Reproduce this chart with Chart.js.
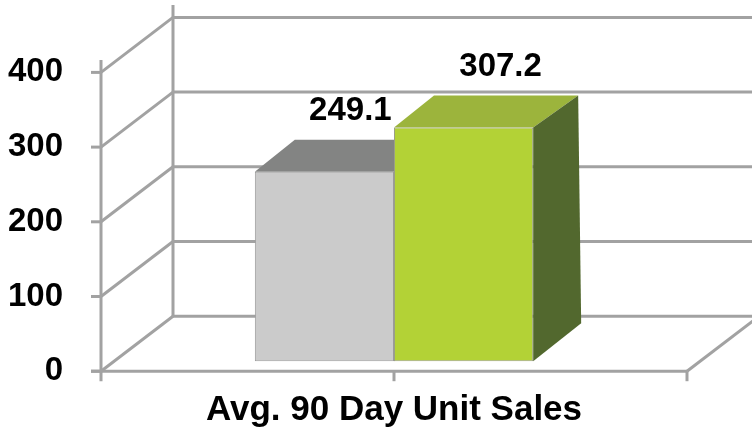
<!DOCTYPE html>
<html>
<head>
<meta charset="utf-8">
<script src="https://cdn.jsdelivr.net/npm/chart.js@4/dist/chart.umd.min.js"></script>
<style>
  html, body { margin: 0; padding: 0; background: #ffffff; }
  #wrap { width: 752px; height: 429px; }
</style>
</head>
<body>
<div id="wrap"><canvas id="c" width="752" height="429"></canvas></div>
<script>
// ---- data ----
const categories = ['Avg. 90 Day Unit Sales'];
const seriesNames = ['Series 1', 'Series 2'];
const grayValues = [249.1];
const greenValues = [307.2];
const yTickValues = [0, 100, 200, 300, 400];

// ---- styles ----
const FONT = "'Liberation Sans', Arial, Helvetica, sans-serif";
const LINE = '#a2a2a2';
const WALL_DX = 72, WALL_DY = -55;          // back wall offset
const FACE = [
  { front: '#cbcbcb', top: '#838483', side: '#6b6b6b' },
  { front: '#b3d236', top: '#9cb43c', side: '#52682e' }
];
const LABEL_DX = [26, 37], LABEL_DY = -52;

const frame3d = {
  id: 'frame3d',
  beforeDatasetsDraw(chart) {
    const { ctx, chartArea: a, scales } = chart;
    const y = scales.y, x = scales.x;
    ctx.save();
    ctx.strokeStyle = LINE;
    ctx.lineWidth = 3;
    const line = (x1, y1, x2, y2) => { ctx.beginPath(); ctx.moveTo(x1, y1); ctx.lineTo(x2, y2); ctx.stroke(); };
    y.ticks.forEach(t => {
      const py = y.getPixelForValue(t.value);
      line(a.left, py, a.left + WALL_DX, py + WALL_DY);
      line(a.left + WALL_DX, py + WALL_DY, chart.width, py + WALL_DY);
      line(a.left - 10, py, a.left, py);
    });
    line(a.left + WALL_DX, a.top + WALL_DY, a.left + WALL_DX, a.bottom + WALL_DY);
    line(a.right, a.bottom, a.right + WALL_DX, a.bottom + WALL_DY);
    line(a.left, a.top, a.left, a.bottom + 10);
    line(a.left - 10, a.bottom, a.right, a.bottom);
    [x.getPixelForValue(0), a.right].forEach(px => line(px, a.bottom, px, a.bottom + 10));
    ctx.restore();

    // 3D top and side faces, drawn back-to-front (first series first)
    chart.data.datasets.forEach((ds, i) => {
      const f = FACE[i];
      chart.getDatasetMeta(i).data.forEach(bar => {
        const x0 = bar.x - bar.width / 2, x1 = bar.x + bar.width / 2;
        const yt = bar.y, yb = bar.base;
        ctx.save();
        ctx.fillStyle = f.top;
        ctx.beginPath();
        ctx.moveTo(x0, yt); ctx.lineTo(x0 + 40, yt - 32); ctx.lineTo(x1 + 45, yt - 32); ctx.lineTo(x1, yt);
        ctx.closePath(); ctx.fill();
        ctx.fillStyle = f.side;
        ctx.beginPath();
        ctx.moveTo(x1, yt); ctx.lineTo(x1 + 45, yt - 32); ctx.lineTo(x1 + 48, yb - 38); ctx.lineTo(x1, yb);
        ctx.closePath(); ctx.fill();
        ctx.restore();
      });
    });
  },
  afterDatasetsDraw(chart) {
    const ctx = chart.ctx;
    ctx.save();
    ctx.font = 'bold 33px ' + FONT;
    ctx.fillStyle = '#000';
    ctx.textAlign = 'center';
    ctx.textBaseline = 'alphabetic';
    chart.data.datasets.forEach((ds, i) => {
      chart.getDatasetMeta(i).data.forEach((bar, j) => {
        ctx.fillText(String(ds.data[j]), bar.x + LABEL_DX[i], bar.y + LABEL_DY);
      });
    });
    ctx.restore();
  }
};

new Chart(document.getElementById('c'), {
  type: 'bar',
  data: {
    labels: categories,
    datasets: [
      { label: seriesNames[0], data: grayValues, backgroundColor: FACE[0].front, borderColor: '#9a9a9a', borderWidth: 1, borderSkipped: false, yAxisID: 'yb' },
      { label: seriesNames[1], data: greenValues, backgroundColor: FACE[1].front, borderColor: '#9a9f86', borderWidth: 1, borderSkipped: false, yAxisID: 'yb' }
    ]
  },
  options: {
    responsive: false,
    animation: false,
    devicePixelRatio: 1,
    layout: { padding: { top: 60, right: 65, bottom: 0, left: 0 } },
    categoryPercentage: 0.475,
    barPercentage: 1,
    plugins: { legend: { display: false }, tooltip: { enabled: false } },
    scales: {
      x: {
        grid: { display: false, drawTicks: false },
        border: { display: false },
        ticks: { color: '#000', font: { family: FONT, size: 35, weight: 'bold' }, padding: 18 },
        afterFit: s => { s.height = 56; }
      },
      y: {
        min: 0, max: 416.6,
        grid: { display: false, drawTicks: false },
        border: { display: false },
        ticks: { color: '#000', font: { family: FONT, size: 33, weight: 'bold' }, padding: 38 },
        afterBuildTicks: s => { s.ticks = yTickValues.map(v => ({ value: v })); },
        afterFit: s => { s.width = 101; }
      },
      yb: {
        display: false,
        min: -13.07, max: 396.1
      }
    }
  },
  plugins: [frame3d]
});
</script>
</body>
</html>
